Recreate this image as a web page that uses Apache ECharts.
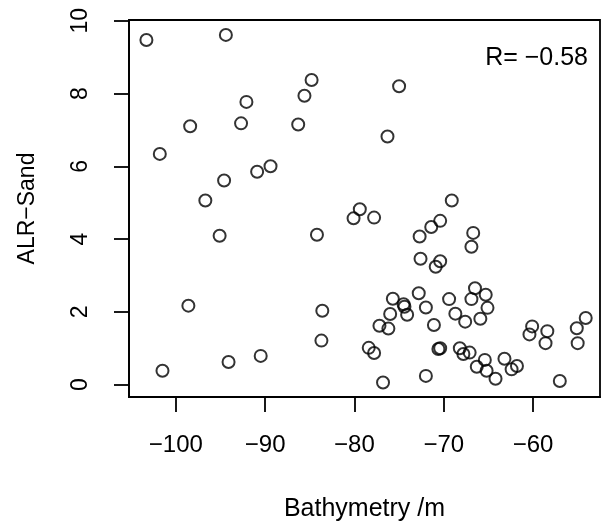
<!DOCTYPE html>
<html>
<head>
<meta charset="utf-8">
<script src="https://cdn.jsdelivr.net/npm/echarts@6/dist/echarts.min.js"></script>
<style>
  html, body { margin: 0; padding: 0; background: #fff; }
  #chart { width: 604px; height: 527px; }
</style>
</head>
<body>
<div id="chart"></div>
<script>
// values
var bathymetry = [
  -103.3, -94.4, -84.8, -85.6, -92.1, -98.4, -92.7, -86.3, -101.8, -89.4,
  -90.9, -94.6, -96.7, -95.1, -84.2, -98.6, -83.6, -83.7, -101.5, -94.1,
  -90.5, -75.0, -76.3, -69.1, -79.4, -80.1, -77.8, -70.4, -71.4, -72.7,
  -66.7, -66.9, -72.6, -70.4, -70.9, -66.5, -65.3, -66.9, -72.8, -69.4,
  -75.7, -74.5, -74.4, -74.1, -76.0, -72.0, -65.1, -68.7, -67.6, -65.9,
  -71.1, -77.2, -76.2, -78.4, -77.8, -70.6, -70.4, -68.2, -67.8, -67.1,
  -65.4, -66.3, -65.2, -64.2, -63.2, -62.4, -61.8, -72.0, -76.8, -60.1,
  -60.4, -58.4, -58.6, -57.0, -54.1, -55.1, -55.0
];
var alrSand = [
  9.47, 9.61, 8.37, 7.94, 7.77, 7.10, 7.18, 7.15, 6.34, 6.00,
  5.85, 5.61, 5.06, 4.09, 4.12, 2.17, 2.03, 1.21, 0.38, 0.62,
  0.79, 8.20, 6.82, 5.06, 4.82, 4.57, 4.59, 4.50, 4.33, 4.07,
  4.17, 3.79, 3.46, 3.39, 3.24, 2.65, 2.47, 2.35, 2.51, 2.35,
  2.36, 2.21, 2.14, 1.92, 1.94, 2.12, 2.11, 1.95, 1.73, 1.81,
  1.64, 1.62, 1.54, 1.01, 0.87, 0.98, 1.00, 1.00, 0.84, 0.88,
  0.68, 0.49, 0.38, 0.16, 0.71, 0.42, 0.51, 0.24, 0.06, 1.60,
  1.38, 1.47, 1.14, 0.10, 1.83, 1.55, 1.14
];
var xTicks = [-100, -90, -80, -70, -60];
var yTicks = [0, 2, 4, 6, 8, 10];
var corrLabel = 'R= \u22120.58';

var points = bathymetry.map(function(x, i) { return [x, alrSand[i]]; });

function minusSign(v) {
  return String(v).replace('-', '\u2212');
}

var font = 'Liberation Sans, Arial, Helvetica, sans-serif';

var chart = echarts.init(document.getElementById('chart'), null, { renderer: 'canvas' });

var option = {
  animation: false,
  backgroundColor: '#fff',
  grid: {
    left: 129, right: 4, top: 20, bottom: 129,
    show: true, borderColor: '#000', borderWidth: 1.8,
    containLabel: false
  },
  xAxis: {
    type: 'value',
    min: -105.25, max: -52.5,
    name: 'Bathymetry /m',
    nameLocation: 'middle',
    nameGap: 100,
    nameTextStyle: { color: '#000', fontSize: 25, fontFamily: font },
    axisLine: { show: true, onZero: false, lineStyle: { color: '#000', width: 1.8 } },
    axisTick: { show: true, length: 15, customValues: xTicks, lineStyle: { color: '#000', width: 1.8 } },
    axisLabel: { customValues: xTicks, formatter: minusSign, margin: 36, color: '#000', fontSize: 24, fontFamily: font },
    splitLine: { show: false }
  },
  yAxis: {
    type: 'value',
    min: -0.34, max: 10.02,
    name: 'ALR\u2212Sand',
    nameLocation: 'middle',
    nameGap: 90,
    nameTextStyle: { color: '#000', fontSize: 23, fontFamily: font },
    axisLine: { show: true, onZero: false, lineStyle: { color: '#000', width: 1.8 } },
    axisTick: { show: true, length: 15, customValues: yTicks, lineStyle: { color: '#000', width: 1.8 } },
    axisLabel: { customValues: yTicks, rotate: 90, margin: 37, color: '#000', fontSize: 23, fontFamily: font },
    splitLine: { show: false }
  },
  graphic: [{
    type: 'text',
    right: 16, top: 46,
    style: { text: corrLabel, fill: '#000', fontSize: 25, fontFamily: font }
  }],
  series: [{
    type: 'scatter',
    data: points,
    symbol: 'circle',
    symbolSize: 12,
    itemStyle: { color: 'rgba(0,0,0,0)', borderColor: '#000', borderWidth: 2 }
  }]
};

chart.setOption(option);
</script>
</body>
</html>
